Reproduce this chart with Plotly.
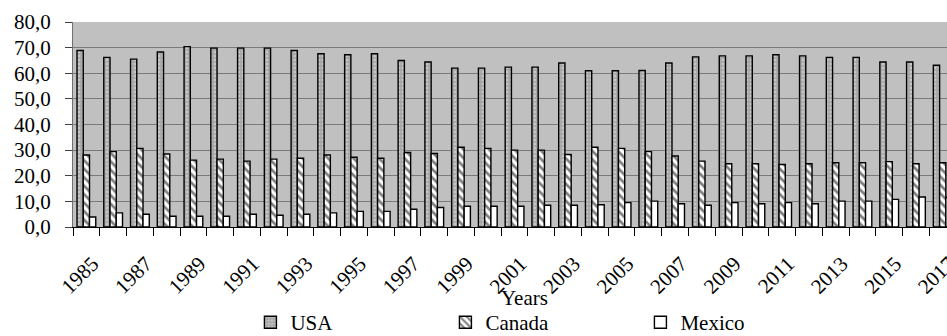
import plotly.graph_objects as go

years = [str(y) for y in range(1985, 2018)]

usa = [68.9, 66.2, 65.5, 68.3, 70.4, 69.8, 69.8, 69.8, 68.9, 67.6,
       67.2, 67.6, 65.0, 64.4, 62.0, 62.0, 62.4, 62.4, 64.0, 61.0,
       61.0, 61.1, 64.0, 66.4, 66.8, 66.8, 67.2, 66.8, 66.2, 66.2,
       64.4, 64.4, 63.1]

canada = [28.1, 29.4, 30.7, 28.5, 26.1, 26.5, 25.7, 26.5, 26.8, 28.1,
          27.2, 26.8, 29.1, 28.7, 31.1, 30.7, 30.0, 30.0, 28.3, 31.1,
          30.7, 29.4, 27.7, 25.7, 24.7, 24.7, 24.4, 24.7, 25.1, 25.1,
          25.5, 24.7, 25.1]

mexico = [3.9, 5.5, 5.0, 4.2, 4.2, 4.2, 5.0, 4.6, 5.0, 5.5,
          6.1, 6.1, 6.9, 7.6, 8.1, 8.1, 8.1, 8.5, 8.5, 8.7,
          9.5, 10.1, 9.1, 8.5, 9.5, 9.1, 9.5, 9.1, 10.1, 10.1,
          10.8, 11.7, 11.5]

# every other year carries a label, ticks sit on every category boundary
tick_text = [y if i % 2 == 0 else "" for i, y in enumerate(years)]

FONT = "Liberation Serif"
outline = dict(color="black", width=1.4)

fig = go.Figure()
fig.add_trace(go.Bar(
    name="USA", x=years, y=usa,
    marker=dict(color="#a8a8a8", line=outline,
                pattern=dict(shape=".", fgcolor="#e6e6e6", bgcolor="#a8a8a8",
                             size=4, solidity=0.3)),
))
fig.add_trace(go.Bar(
    name="Canada", x=years, y=canada,
    marker=dict(color="white", line=outline,
                pattern=dict(shape="\\", fgcolor="black", bgcolor="white",
                             size=6, solidity=0.45)),
))
fig.add_trace(go.Bar(
    name="Mexico", x=years, y=mexico,
    marker=dict(color="white", line=outline),
))

fig.update_layout(
    width=947, height=336,
    margin=dict(l=73, r=0, t=22, b=109, autoexpand=False),
    paper_bgcolor="white",
    plot_bgcolor="#c0c0c0",
    barmode="group",
    bargap=0.3,
    bargroupgap=0,
    separators=", ",
    font=dict(family=FONT, size=21, color="black"),
    showlegend=True,
    legend=dict(
        orientation="h",
        x=0.203, xanchor="left",
        y=-0.466, yanchor="middle",
        entrywidth=150, entrywidthmode="pixels",
        font=dict(family=FONT, size=21, color="black"),
        bgcolor="rgba(0,0,0,0)",
        itemclick=False,
    ),
    annotations=[dict(
        text="Years", xref="paper", yref="paper",
        x=0.517, y=-0.347, xanchor="center", yanchor="middle",
        showarrow=False, font=dict(family=FONT, size=21, color="black"),
    )],
)

fig.update_xaxes(
    type="category",
    range=[-0.5, 32.16],
    tickmode="array", tickvals=years, ticktext=tick_text,
    tickson="boundaries",
    ticks="outside", ticklen=8, tickwidth=1, tickcolor="black",
    tickangle=-45,
    ticklabelstandoff=15,
    ticklabelshift=6,
    tickfont=dict(family=FONT, size=21, color="black"),
    showline=True, linecolor="black", linewidth=1.3,
    showgrid=False, zeroline=False,
    automargin=False,
)

fig.update_yaxes(
    range=[0, 80], dtick=10, tick0=0,
    tickformat=".1f",
    ticks="outside", ticklen=7, tickwidth=1, tickcolor="#404040",
    ticklabelstandoff=10,
    tickfont=dict(family=FONT, size=21, color="black"),
    showline=True, linecolor="#707070", linewidth=1.2,
    showgrid=True, gridcolor="#7a7a7a", gridwidth=1.2,
    zeroline=False,
    automargin=False,
)

fig.write_html("out.html")
